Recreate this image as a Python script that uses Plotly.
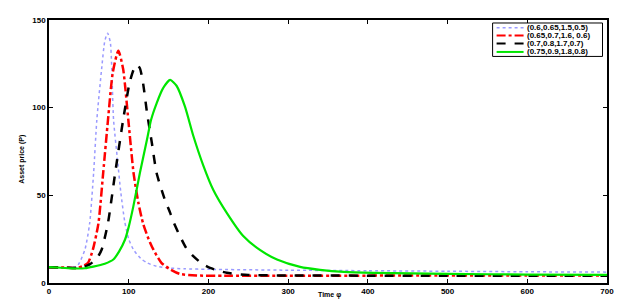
import plotly.graph_objects as go

# Series data (time, asset price)
names = ["(0.6,0.65,1.5,0.5)", "(0.65,0.7,1.6, 0.6)", "(0.7,0.8,1.7,0.7)", "(0.75,0.9,1.8,0.8)"]

t_blue = [0, 20, 35, 45, 51, 56, 60, 66, 70, 73.5, 77, 81, 86, 90, 95, 100, 106, 115, 123, 135, 148, 170, 200, 300, 400, 500, 600, 700]
p_blue = [9, 8.8, 9.5, 19, 34, 63, 93, 122, 138, 142.5, 137, 93, 70, 52, 35, 25, 19, 14, 11.5, 9.5, 8.6, 8.1, 7.8, 7.3, 7.0, 6.7, 6.4, 6.2]

t_red = [0, 20, 35, 42, 49, 55, 62, 68, 74, 80, 87, 93, 99.5, 106, 112, 118, 125, 131, 141, 152, 164, 185, 220, 300, 400, 500, 600, 700]
p_red = [9, 8.8, 8.6, 9.5, 11.5, 19, 34, 63, 93, 120, 132.5, 122, 93, 63, 46, 34, 25, 19, 11.5, 7.8, 5.2, 4.3, 4.1, 4.1, 4.2, 4.3, 4.3, 4.3]

t_black = [0, 20, 40, 51, 60, 66, 74, 83, 93, 101, 106, 110, 114, 118, 123, 129, 135, 145, 152, 156, 164, 172, 181, 192, 202, 223, 250, 300, 400, 500, 600, 700]
p_black = [9, 8.8, 8.6, 10.6, 14, 19, 34.3, 62.7, 93, 114, 121.5, 124.4, 122.5, 114, 97, 80, 62.7, 48, 40, 35, 27, 20, 15.3, 11, 8.6, 5.8, 4.6, 4.3, 4.2, 4.2, 4.2, 4.2]

t_green = [0, 15, 30, 45, 55.6, 70, 80.7, 88, 95.4, 100, 105.8, 114, 123, 128, 135, 143, 152, 160, 170.6, 181, 193.6, 206, 223, 244, 265, 286, 315, 340, 370, 407, 500, 600, 700]
p_green = [9, 8.7, 8.3, 8.4, 9.3, 11, 13.4, 18, 24.8, 32, 43.7, 62.7, 82, 93, 102.5, 111, 115.8, 112.5, 100.6, 84, 67, 53.2, 40, 26.6, 18.7, 13.4, 9.2, 7.5, 6.3, 5.8, 5.2, 4.8, 4.6]

x_ticks = [0, 100, 200, 300, 400, 500, 600, 700]
y_ticks = [0, 50, 100, 150]

styles = [
    dict(color="#9a9aff", width=1.5, dash="dot"),
    dict(color="#ff0000", width=2.5, dash="dashdot"),
    dict(color="#000000", width=2.5, dash="dash"),
    dict(color="#00e600", width=2.2, dash="solid"),
]
series = [(t_blue, p_blue), (t_red, p_red), (t_black, p_black), (t_green, p_green)]

fig = go.Figure()
for (tx, py), nm, st in zip(series, names, styles):
    fig.add_trace(go.Scatter(x=tx, y=py, mode="lines", name=nm, showlegend=False,
                             line=dict(color=st["color"], width=st["width"], dash=st["dash"],
                                       shape="spline", smoothing=0.6)))

# plot area in pixels
L, R, T, B = 49, 607.5, 20, 283.5
W, H = 642, 304
def px(xp):
    return (xp - L) / (R - L)
def py_(yp):
    return (B - yp) / (B - T)

# manual compact legend
fig.add_shape(type="rect", xref="paper", yref="paper",
              x0=px(493), x1=px(603), y0=py_(56.5), y1=py_(23),
              line=dict(color="black", width=1), fillcolor="white", layer="above")
rows = [27.7, 35.5, 43.5, 52]
for yy, nm, st in zip(rows, names, styles):
    fig.add_shape(type="line", xref="paper", yref="paper",
                  x0=px(497), x1=px(524), y0=py_(yy), y1=py_(yy),
                  line=dict(color=st["color"], width=min(st["width"], 2), dash=st["dash"]), layer="above")
    fig.add_annotation(xref="paper", yref="paper", x=px(525.5), y=py_(yy), text="<b>" + nm + "</b>",
                       showarrow=False, xanchor="left", yanchor="middle",
                       font=dict(family="Liberation Sans", size=8, color="black"))

# axis titles
fig.add_annotation(xref="paper", yref="paper", x=px(330), y=py_(296), text="<b>Time φ</b>",
                   showarrow=False, xanchor="center", yanchor="middle",
                   font=dict(family="Liberation Sans", size=7, color="black"))
fig.add_annotation(xref="paper", yref="paper", x=px(22), y=py_(160), text="<b>Asset price (P)</b>",
                   showarrow=False, xanchor="center", yanchor="middle", textangle=-90,
                   font=dict(family="Liberation Sans", size=7, color="black"))

font_tick = dict(family="Liberation Sans", size=8, color="#000000")
fig.update_layout(
    template="none",
    width=W, height=H,
    margin=dict(l=L, r=W - R, t=T, b=H - B),
    paper_bgcolor="white", plot_bgcolor="white",
    font=dict(color="black"),
    showlegend=False,
    xaxis=dict(range=[0, 700], tickvals=x_ticks, ticktext=["<b>%d</b>" % v for v in x_ticks],
               ticks="inside", ticklen=4, tickcolor="black",
               showline=True, linecolor="black", linewidth=1.5, mirror="ticks",
               showgrid=False, zeroline=False, tickfont=font_tick, automargin=False),
    yaxis=dict(range=[0, 150], tickvals=y_ticks, ticktext=["<b>%d</b>" % v for v in y_ticks],
               ticks="inside", ticklen=4, tickcolor="black",
               showline=True, linecolor="black", linewidth=1.5, mirror="ticks",
               showgrid=False, zeroline=False, tickfont=font_tick, automargin=False),
)

fig.write_html("out.html", config={"displayModeBar": False})

# remove the default page margin so the figure sits at the window's top-left corner
with open("out.html", "r", encoding="utf-8") as f:
    html = f.read()
html = html.replace("<head>", "<head><style>html,body{margin:0;padding:0;overflow:hidden;}</style>", 1)
with open("out.html", "w", encoding="utf-8") as f:
    f.write(html)
